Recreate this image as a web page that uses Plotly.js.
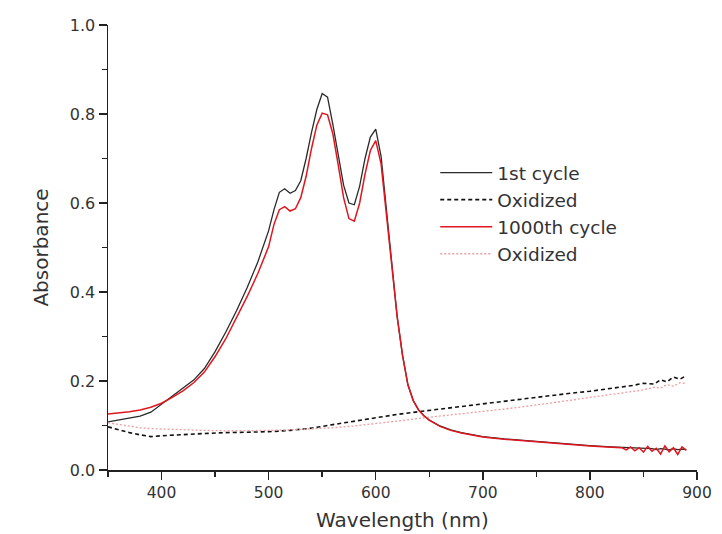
<!DOCTYPE html>
<html>
<head>
<meta charset="utf-8">
<script src="https://cdn.plot.ly/plotly-3.0.1.min.js"></script>
<style>
  html, body { margin: 0; padding: 0; background: #fff; }
  #chart { width: 722px; height: 534px; }
</style>
</head>
<body>
<div id="chart"></div>
<script>
// Wavelength (nm) for the reduced-state spectra
const wl = [350,360,370,380,390,400,410,420,430,440,450,460,470,480,490,500,
  505,510,515,520,525,530,535,540,545,550,555,560,565,570,575,580,585,590,595,600,
  605,610,615,620,625,630,635,640,645,650,
  660,670,680,690,700,
  720,740,760,780,800,820,
  830,834,838,842,846,850,854,858,862,866,870,874,878,882,886,890];

// 1st cycle (black solid)
const cycle1 = [0.108,0.112,0.116,0.121,0.130,0.148,0.165,0.182,0.202,0.228,0.266,0.310,0.358,0.410,0.468,0.538,
  0.585,0.624,0.632,0.622,0.628,0.650,0.700,0.758,0.810,0.846,0.838,0.776,0.706,0.640,0.600,0.596,0.638,0.700,0.748,0.766,
  0.705,0.585,0.465,0.345,0.258,0.192,0.156,0.135,0.122,0.112,
  0.099,0.090,0.084,0.079,0.075,
  0.070,0.066,0.062,0.058,0.055,0.052,
  0.051,0.050,0.050,0.049,0.048,0.049,0.047,0.048,0.046,0.048,0.047,0.045,0.048,0.046,0.047,0.046];

// 1000th cycle (red solid)
const cycle1000 = [0.126,0.128,0.131,0.135,0.141,0.150,0.163,0.178,0.196,0.220,0.255,0.295,0.342,0.390,0.442,0.502,
  0.552,0.585,0.592,0.582,0.587,0.612,0.660,0.722,0.775,0.802,0.798,0.755,0.685,0.612,0.565,0.559,0.600,0.665,0.718,0.740,
  0.688,0.578,0.462,0.345,0.258,0.192,0.156,0.135,0.122,0.112,
  0.098,0.089,0.083,0.078,0.074,
  0.069,0.065,0.061,0.057,0.054,0.051,
  0.050,0.045,0.052,0.043,0.050,0.040,0.053,0.042,0.049,0.036,0.054,0.041,0.050,0.035,0.052,0.044];

// Wavelength (nm) for the oxidized-state spectra
const wlOx = [350,360,370,380,390,400,420,440,460,480,500,520,540,560,580,600,620,640,660,680,700,
  720,740,760,780,800,820,840,850,860,866,872,878,884,890];

// Oxidized after 1st cycle (black dashed)
const ox1 = [0.097,0.090,0.084,0.079,0.075,0.077,0.080,0.082,0.084,0.085,0.086,0.089,0.094,0.102,0.110,0.118,0.125,0.131,0.137,0.143,0.149,
  0.155,0.161,0.166,0.172,0.177,0.183,0.190,0.195,0.193,0.203,0.198,0.209,0.204,0.212];

// Oxidized after 1000th cycle (pink dotted)
const ox1000 = [0.106,0.102,0.098,0.095,0.093,0.092,0.090,0.089,0.088,0.088,0.089,0.090,0.092,0.095,0.099,0.104,0.110,0.116,0.121,0.126,0.131,
  0.137,0.143,0.149,0.156,0.163,0.170,0.177,0.180,0.186,0.184,0.192,0.188,0.196,0.194];

const names = ["1st cycle", "Oxidized", "1000th cycle", "Oxidized"];
const xTickVals = [400, 500, 600, 700, 800, 900];
const yTickVals = [0.0, 0.2, 0.4, 0.6, 0.8, 1.0];

const FONT = "'DejaVu Sans', 'Liberation Sans', Arial, sans-serif";
const TXT = "#333333";

const traces = [
  { x: wl, y: cycle1, name: names[0], mode: "lines",
    line: { color: "#2a2a2a", width: 1.3 } },
  { x: wlOx, y: ox1, name: names[1], mode: "lines",
    line: { color: "#111111", width: 1.6, dash: "4px,3px" } },
  { x: wl, y: cycle1000, name: names[2], mode: "lines",
    line: { color: "#e0161e", width: 1.5 } },
  { x: wlOx, y: ox1000, name: names[3], mode: "lines",
    line: { color: "#ec9ea4", width: 1.3, dash: "2px,2px" } }
];

const layout = {
  width: 722, height: 534,
  margin: { l: 107.5, r: 25, t: 25, b: 64 },
  paper_bgcolor: "#ffffff",
  plot_bgcolor: "#ffffff",
  font: { family: FONT, color: TXT, size: 16 },
  showlegend: true,
  legend: {
    x: 0.5556, y: 0.71, xanchor: "left", yanchor: "top",
    bgcolor: "rgba(0,0,0,0)",
    font: { family: FONT, size: 18.5, color: TXT },
    itemwidth: 52,
    tracegroupgap: 0
  },
  xaxis: {
    range: [350, 900],
    tickvals: xTickVals,
    ticks: "outside", ticklen: 8, tickwidth: 1.5, tickcolor: "#222",
    minor: { dtick: 50, tick0: 350, ticks: "outside", ticklen: 5, tickwidth: 1.5, tickcolor: "#222" },
    showline: true, linecolor: "#222", linewidth: 1.5,
    showgrid: false, zeroline: false,
    tickfont: { family: FONT, size: 15.5, color: TXT },
    title: { text: "Wavelength (nm)", font: { family: FONT, size: 20, color: TXT }, standoff: 12 },
    fixedrange: true
  },
  yaxis: {
    range: [0, 1.0],
    tickvals: yTickVals,
    tickformat: ".1f",
    ticks: "outside", ticklen: 8, tickwidth: 1.5, tickcolor: "#222",
    minor: { dtick: 0.1, tick0: 0, ticks: "outside", ticklen: 5, tickwidth: 1.5, tickcolor: "#222" },
    showline: true, linecolor: "#222", linewidth: 1.5,
    showgrid: false, zeroline: false,
    tickfont: { family: FONT, size: 16, color: TXT },
    title: { text: "Absorbance", font: { family: FONT, size: 20, color: TXT }, standoff: 16 },
    fixedrange: true
  }
};

Plotly.newPlot("chart", traces, layout, { displayModeBar: false, staticPlot: true });
</script>
</body>
</html>
